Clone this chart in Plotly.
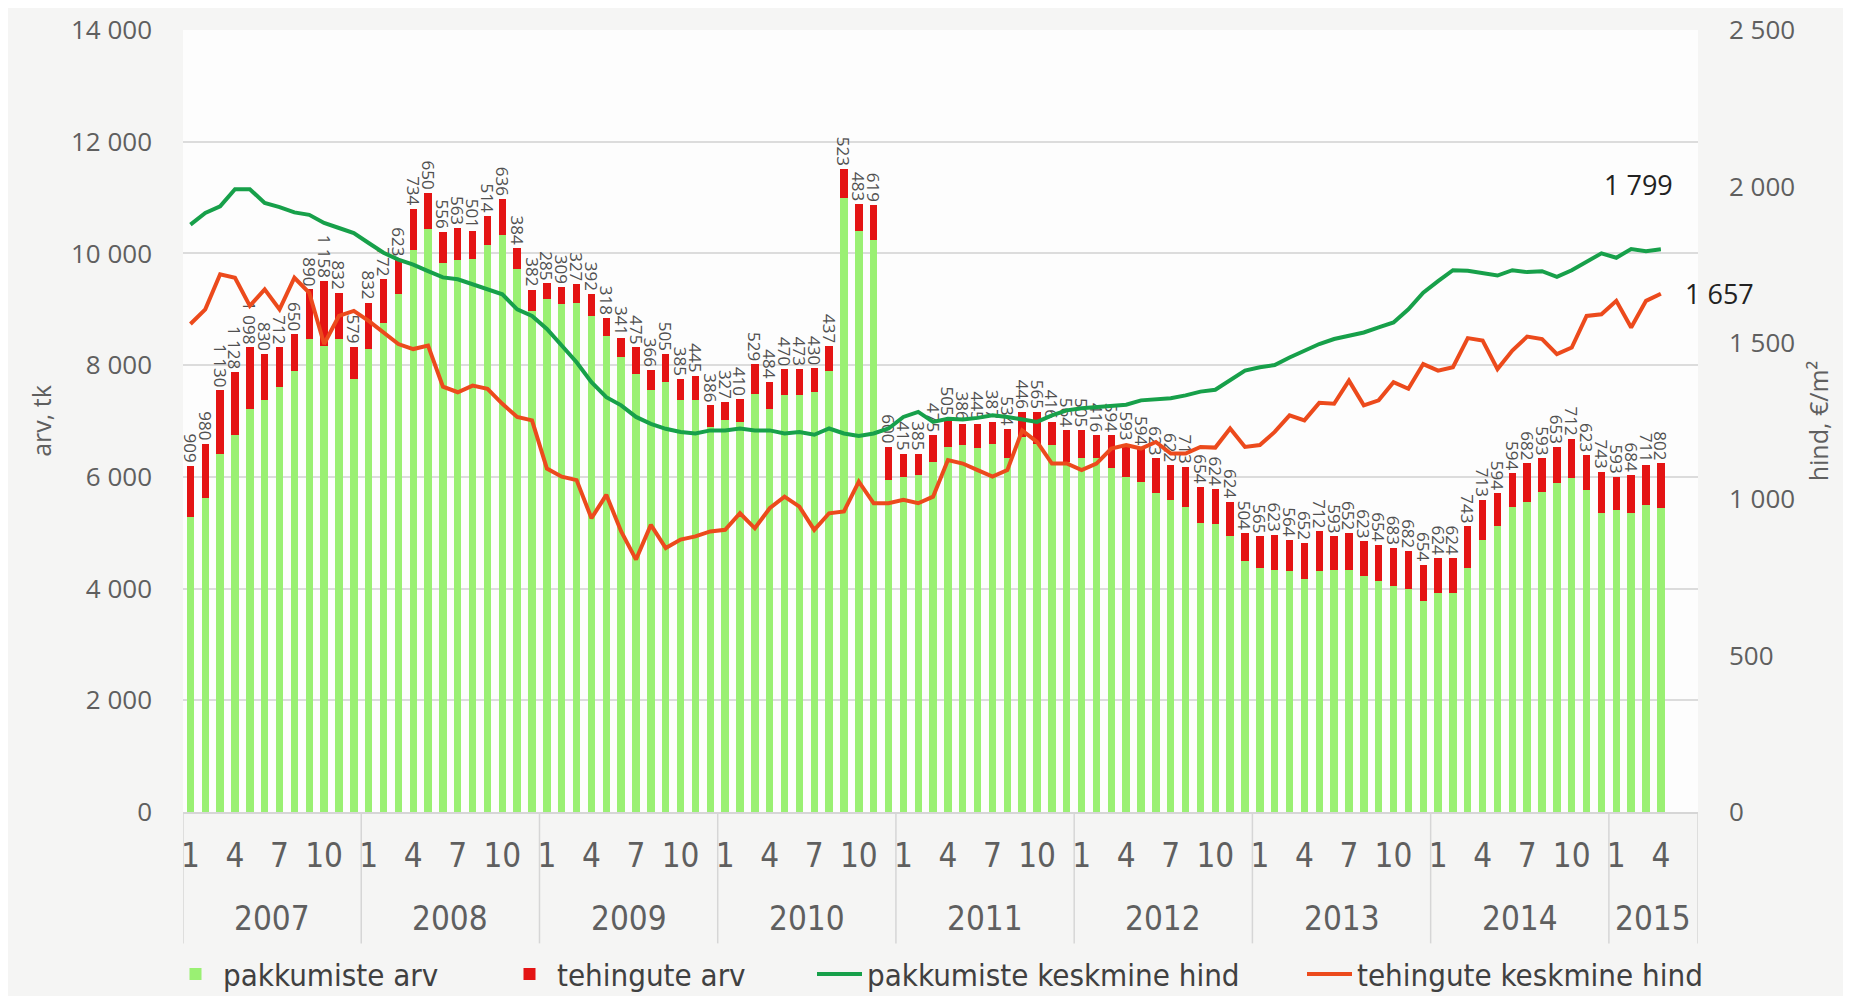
import plotly.graph_objects as go

# monthly data Jan 2007 - Apr 2015 (axis runs to Jun 2015)
years = [2007, 2008, 2009, 2010, 2011, 2012, 2013, 2014, 2015]
months_in_last_year = 6
month_ticks = [1, 4, 7, 10]
arv_ticks = [0, 2000, 4000, 6000, 8000, 10000, 12000, 14000]
hind_ticks = [0, 500, 1000, 1500, 2000, 2500]

pakkumiste_arv = [
    5290, 5617, 6418, 6745, 7220, 7368, 7606, 7903, 8466, 8348, 8466, 7754,
    8288, 8763, 9268, 10069, 10438, 9833, 9891, 9903, 10159, 10338, 9713, 8972,
    9179, 9090, 9120, 8883, 8527, 8140, 7843, 7547, 7695, 7369, 7369, 6893,
    7012, 6983, 7487, 7220, 7458, 7458, 7517, 7903, 10990, 10397, 10248, 5943,
    6003, 6033, 6270, 6537, 6567, 6508, 6596, 6329, 6715, 6596, 6567, 6270,
    6329, 6329, 6151, 6003, 5914, 5706, 5588, 5468, 5171, 5160, 4934, 4489,
    4369, 4341, 4311, 4163, 4311, 4341, 4341, 4222, 4132, 4043, 3985, 3776,
    3924, 3924, 4369, 4875, 5112, 5468, 5558, 5736, 5884, 5973, 5766, 5349,
    5410, 5349, 5499, 5438,
]
tehingute_arv = [
    909, 980, 1130, 1128, 1098, 830, 712, 650, 890, 1158, 832, 579,
    832, 772, 623, 734, 650, 556, 563, 501, 514, 636, 384, 382,
    285, 309, 327, 392, 318, 341, 475, 366, 505, 385, 445, 386,
    327, 410, 529, 484, 470, 473, 430, 437, 523, 483, 619, 600,
    415, 385, 475, 505, 386, 445, 387, 534, 446, 565, 416, 564,
    505, 416, 594, 593, 594, 623, 622, 713, 654, 624, 624, 504,
    565, 623, 564, 652, 712, 593, 652, 623, 654, 683, 682, 654,
    624, 624, 743, 713, 594, 594, 682, 593, 653, 712, 623, 743,
    593, 684, 711, 802,
]
pakkumiste_hind = [
    1878, 1915, 1936, 1991, 1991, 1947, 1934, 1917, 1909, 1883, 1867, 1851,
    1819, 1788, 1766, 1750, 1729, 1709, 1703, 1687, 1671, 1655, 1607, 1586,
    1544, 1491, 1438, 1374, 1326, 1300, 1263, 1241, 1225, 1215, 1210, 1220,
    1220, 1226, 1220, 1220, 1210, 1215, 1206, 1226, 1210, 1202, 1210, 1226,
    1263, 1279, 1247, 1257, 1255, 1260, 1268, 1263, 1255, 1247, 1268, 1284,
    1291, 1294, 1300, 1302, 1316, 1321, 1323, 1332, 1344, 1350, 1379, 1411,
    1422, 1429, 1453, 1475, 1496, 1512, 1523, 1533, 1549, 1565, 1607, 1660,
    1697, 1732, 1730, 1722, 1715, 1732, 1726, 1729, 1711, 1732, 1758, 1786,
    1772, 1800, 1793, 1799,
]
tehingute_hind = [
    1560, 1607, 1719, 1708, 1618, 1671, 1607, 1708, 1660, 1496, 1586, 1602,
    1570, 1533, 1496, 1480, 1491, 1360, 1342, 1363, 1353, 1305, 1263, 1252,
    1098, 1072, 1061, 939, 1014, 897, 807, 918, 844, 871, 881, 897,
    902, 955, 907, 971, 1008, 976, 902, 955, 961, 1056, 987, 987,
    998, 987, 1008, 1125, 1114, 1093, 1072, 1093, 1220, 1183, 1114, 1114,
    1093, 1114, 1162, 1173, 1162, 1183, 1146, 1146, 1167, 1165, 1226, 1167,
    1173, 1215, 1268, 1252, 1308, 1305, 1379, 1300, 1316, 1374, 1353, 1432,
    1411, 1422, 1515, 1507, 1416, 1475, 1520, 1512, 1464, 1485, 1586, 1591,
    1634, 1549, 1634, 1657,
]

GREEN_BAR = '#9af073'
RED_BAR = '#e41414'
GREEN_LINE = '#17a04a'
RED_LINE = '#ec4a1c'
GRAY = '#5f5f5f'
NARROW = 'Liberation Sans Narrow, Arial Narrow, DejaVu Sans Condensed, sans-serif'

# build month / year positions on a numeric axis
month_of = []
for y in years:
    n = 12 if y != years[-1] else months_in_last_year
    month_of += list(range(1, n + 1))
n_cat = len(month_of)
x = list(range(len(pakkumiste_arv)))

tickvals = [i for i, m in enumerate(month_of) if m in month_ticks]
ticktext = [str(month_of[i]) for i in tickvals]

fig = go.Figure()
fig.add_trace(go.Bar(x=x, y=pakkumiste_arv, name='pakkumiste arv', legend='legend',
                     marker=dict(color=GREEN_BAR, line_width=0), width=0.5))
fig.add_trace(go.Bar(x=x, y=tehingute_arv, name='tehingute arv', legend='legend2',
                     marker=dict(color=RED_BAR, line_width=0), width=0.5,
                     texttemplate='%{y:,d}', textposition='outside', textangle=90,
                     constraintext='none', cliponaxis=False,
                     textfont=dict(size=17, color='#505050', family='Open Sans')))
fig.add_trace(go.Scatter(x=x, y=pakkumiste_hind, name='pakkumiste keskmine hind', legend='legend3',
                         mode='lines', line=dict(color=GREEN_LINE, width=4), yaxis='y2'))
fig.add_trace(go.Scatter(x=x, y=tehingute_hind, name='tehingute keskmine hind', legend='legend4',
                         mode='lines', line=dict(color=RED_LINE, width=4), yaxis='y2'))

def fmt(v):
    return f'{v:,}'.replace(',', ' ')

# end-of-line value labels
fig.add_annotation(x=x[-1], y=pakkumiste_hind[-1], xref='x', yref='y2', text=fmt(pakkumiste_hind[-1]),
                   showarrow=False, xshift=-22, yshift=65, font=dict(size=27, color='#222', family='Open Sans'))
fig.add_annotation(x=x[-1], y=tehingute_hind[-1], xref='x', yref='y2', text=fmt(tehingute_hind[-1]),
                   showarrow=False, xanchor='left', xshift=22, yshift=0,
                   font=dict(size=27, color='#222', family='Open Sans'))

# year group labels and dividers
start = 0
for y in years:
    end = start + (12 if y != years[-1] else months_in_last_year)
    fig.add_annotation(x=(start + end - 1) / 2, y=0, xref='x', yref='paper', yshift=-128,
                       text=str(y), showarrow=False, font=dict(size=33, color=GRAY, family=NARROW))
    fig.add_shape(type='line', xref='x', yref='paper', x0=start - 0.5, x1=start - 0.5,
                  y0=0, y1=-0.168, line=dict(color='#d6d6d6', width=1.5))
    start = end
fig.add_shape(type='line', xref='x', yref='paper', x0=n_cat - 0.5, x1=n_cat - 0.5,
              y0=0, y1=-0.168, line=dict(color='#d6d6d6', width=1.5))

W, H = 1835, 988
legend_style = dict(orientation='h', xref='container', yref='container', y=0.022, yanchor='middle',
                    xanchor='left', font=dict(size=31, color='#404040', family=NARROW),
                    itemwidth=45, bgcolor='rgba(0,0,0,0)')

fig.update_layout(
    width=W, height=H,
    barmode='stack', bargap=0.5,
    separators=', ',
    paper_bgcolor='#f5f5f4', plot_bgcolor='#fdfdfd',
    margin=dict(l=175, r=145, t=22, b=184, autoexpand=False),
    font=dict(family='Open Sans', color=GRAY),
    xaxis=dict(range=[-0.5, n_cat - 0.5], tickmode='array', tickvals=tickvals, ticktext=ticktext,
               showgrid=False, zeroline=False, showline=True, linecolor='#d6d6d6', linewidth=1.5,
               automargin=False,
               ticklabelstandoff=14, tickfont=dict(size=33, color=GRAY, family=NARROW)),
    yaxis=dict(range=[0, 14000], tickmode='array', tickvals=arv_ticks, tickformat=',d',
               gridcolor='#dcdcdc', gridwidth=1.5, ticklabeloverflow='allow', automargin=False,
               zeroline=False, ticklabelstandoff=30, tickfont=dict(size=26, color=GRAY),
               title=dict(text='arv, tk', font=dict(size=25, color=GRAY), standoff=12)),
    yaxis2=dict(range=[0, 2500], tickmode='array', tickvals=hind_ticks, tickformat=',d',
                overlaying='y', side='right', ticklabeloverflow='allow', automargin=False,
                showgrid=False, zeroline=False, ticklabelstandoff=30, tickfont=dict(size=26, color=GRAY),
                title=dict(text='hind, €/m²', font=dict(size=25, color=GRAY), standoff=16)),
    legend=dict(legend_style, x=160 / W),
    legend2=dict(legend_style, x=494 / W),
    legend3=dict(legend_style, x=804 / W),
    legend4=dict(legend_style, x=1294 / W),
    showlegend=True,
)

fig.write_html('out.html')
